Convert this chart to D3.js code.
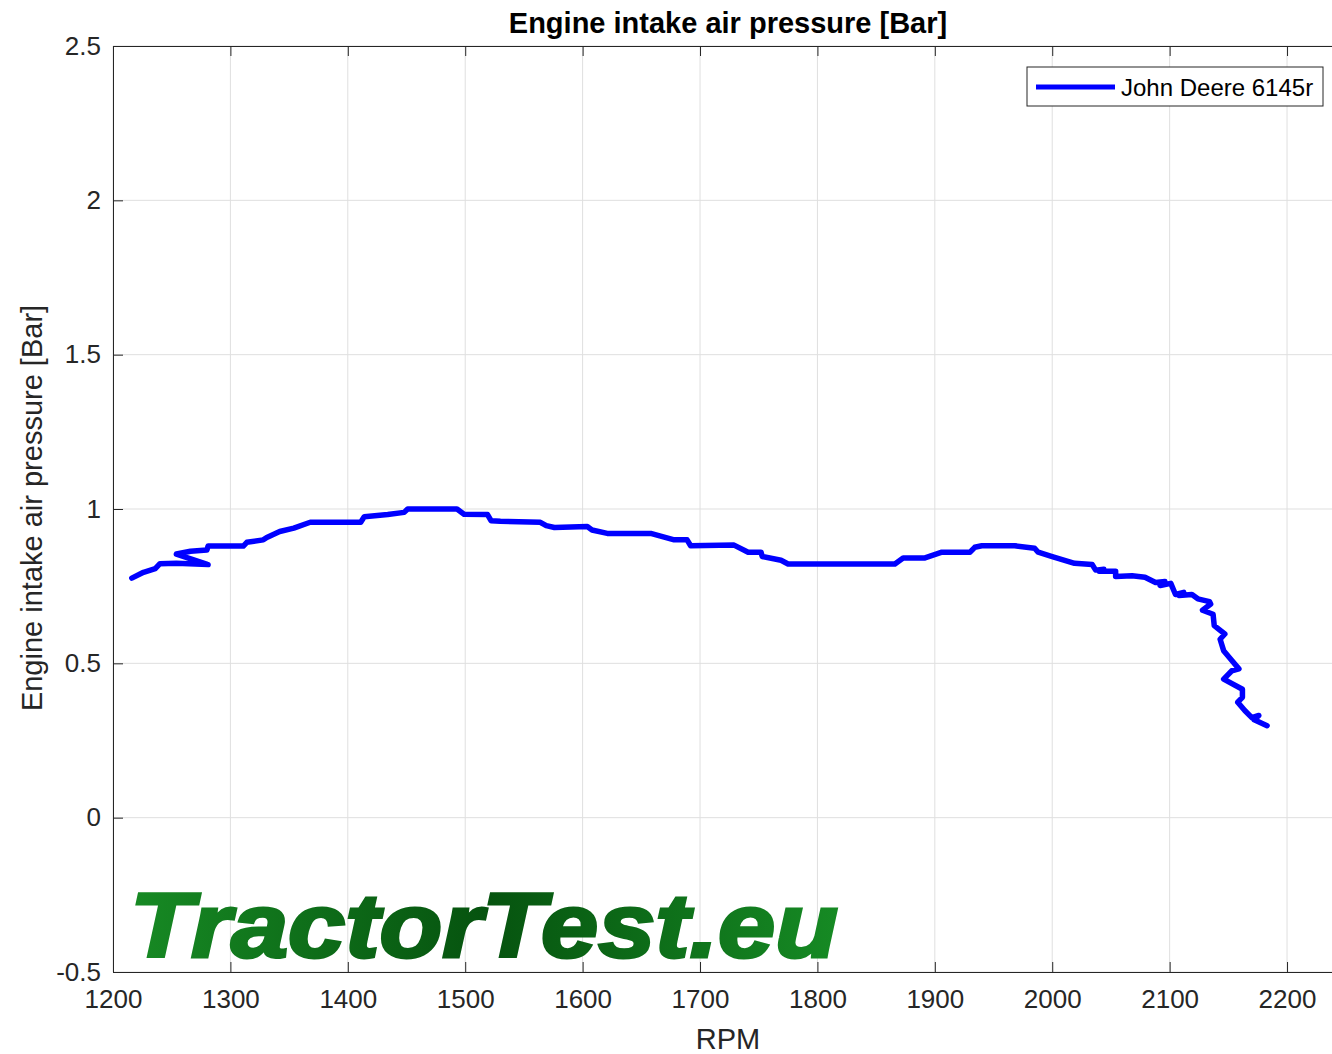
<!DOCTYPE html>
<html>
<head>
<meta charset="utf-8">
<script src="https://cdn.jsdelivr.net/npm/d3@7"></script>
<style>
  body { margin: 0; background: #fff; }
  svg text { font-family: "Liberation Sans", Arial, sans-serif; }
</style>
</head>
<body>
<div id="chart"></div>
<script>
// intake pressure trace
const rpm = [1216, 1226, 1236, 1240, 1254, 1281, 1254, 1266, 1280, 1281, 1311, 1314, 1328, 1331, 1342,
  1354, 1368, 1411, 1414, 1434, 1448, 1451, 1493, 1499, 1519, 1522, 1530, 1564, 1569, 1576,
  1604, 1608, 1621, 1658, 1678, 1689, 1692, 1729, 1741, 1752, 1753, 1769, 1775, 1866, 1873,
  1891, 1906, 1930, 1934, 1940, 1968, 1985, 1988, 2000, 2019, 2034, 2037, 2044, 2040, 2054,
  2054, 2068, 2079, 2088, 2096, 2092, 2101, 2105, 2112, 2108, 2119, 2124, 2134, 2135, 2128,
  2137, 2138, 2147, 2143, 2146, 2153, 2159, 2153, 2146, 2162, 2162, 2158, 2164, 2170, 2176,
  2172, 2183];
const pressure = [0.776, 0.795, 0.807, 0.823, 0.824, 0.82, 0.854, 0.863, 0.867, 0.88, 0.88, 0.892, 0.9, 0.908, 0.927,
  0.938, 0.957, 0.957, 0.975, 0.982, 0.989, 1.0, 1.0, 0.983, 0.982, 0.962, 0.96, 0.957, 0.946, 0.94,
  0.943, 0.932, 0.921, 0.921, 0.9, 0.9, 0.881, 0.883, 0.86, 0.86, 0.846, 0.834, 0.822, 0.822, 0.841,
  0.841, 0.86, 0.86, 0.876, 0.881, 0.881, 0.873, 0.86, 0.846, 0.824, 0.82, 0.802, 0.805, 0.798, 0.798,
  0.781, 0.784, 0.779, 0.762, 0.765, 0.752, 0.759, 0.723, 0.73, 0.72, 0.723, 0.709, 0.7, 0.692, 0.672,
  0.659, 0.622, 0.595, 0.578, 0.541, 0.509, 0.482, 0.476, 0.449, 0.416, 0.39, 0.374, 0.347, 0.324, 0.331,
  0.317, 0.298];
const xTicks = [1200, 1300, 1400, 1500, 1600, 1700, 1800, 1900, 2000, 2100, 2200];
const yTicks = [-0.5, 0, 0.5, 1, 1.5, 2, 2.5];
const seriesName = "John Deere 6145r";

const width = 1332, height = 1054;
const margin = { top: 46, left: 113, right: -2, bottom: 82 };

const svg = d3.select("#chart").append("svg")
  .attr("width", width).attr("height", height);

const x = d3.scaleLinear().domain([1200, 2240]).range([margin.left, width - margin.right]);
const y = d3.scaleLinear().domain([-0.5, 2.5]).range([height - margin.bottom, margin.top]);

const x0 = margin.left, x1 = width - margin.right;
const y0 = height - margin.bottom, y1 = margin.top;

// grid
svg.append("g").selectAll("line").data(xTicks).join("line")
  .attr("x1", d => x(d)).attr("x2", d => x(d)).attr("y1", y0).attr("y2", y1)
  .attr("stroke", "#dfdfdf").attr("stroke-width", 1);
svg.append("g").selectAll("line").data(yTicks).join("line")
  .attr("x1", x0).attr("x2", x1).attr("y1", d => y(d)).attr("y2", d => y(d))
  .attr("stroke", "#dfdfdf").attr("stroke-width", 1);

// watermark
const defs = svg.append("defs");
const grad = defs.append("linearGradient").attr("id", "logoGrad")
  .attr("x1", "0%").attr("x2", "100%").attr("y1", "0%").attr("y2", "0%");
grad.append("stop").attr("offset", "0%").attr("stop-color", "#178a24");
grad.append("stop").attr("offset", "50%").attr("stop-color", "#06530f");
grad.append("stop").attr("offset", "100%").attr("stop-color", "#168a24");
svg.append("text")
  .attr("x", 130).attr("y", 957)
  .attr("textLength", 708).attr("lengthAdjust", "spacingAndGlyphs")
  .style("font-size", "90px").style("font-weight", "bold").style("font-style", "italic")
  .attr("fill", "url(#logoGrad)").attr("stroke", "url(#logoGrad)").attr("stroke-width", 3)
  .text("TractorTest.eu");

// axes
const axisColor = "#262626";
const fmt = d3.format("d");
svg.append("g").attr("transform", `translate(0,${y0})`)
  .call(d3.axisBottom(x).tickValues(xTicks).tickSizeInner(-10).tickSizeOuter(0).tickPadding(18).tickFormat(fmt))
  .call(g => g.select(".domain").attr("stroke", axisColor))
  .call(g => g.selectAll(".tick line").attr("stroke", axisColor))
  .call(g => g.selectAll("text").attr("fill", axisColor).style("font-size", "26px").style("font-family", "Liberation Sans, Arial"));
svg.append("g").attr("transform", `translate(0,${y1})`)
  .call(d3.axisTop(x).tickValues(xTicks).tickSizeInner(-10).tickSizeOuter(0).tickFormat(""))
  .call(g => g.select(".domain").attr("stroke", axisColor))
  .call(g => g.selectAll(".tick line").attr("stroke", axisColor));
svg.append("g").attr("transform", `translate(${x0},0)`)
  .call(d3.axisLeft(y).tickValues(yTicks).tickSizeInner(-10).tickSizeOuter(0).tickPadding(12)
    .tickFormat(d => String(d)))
  .call(g => g.select(".domain").attr("stroke", axisColor))
  .call(g => g.selectAll(".tick line").attr("stroke", axisColor))
  .call(g => g.selectAll("text").attr("fill", axisColor).style("font-size", "26px").style("font-family", "Liberation Sans, Arial"));

// series
const pts = rpm.map((r, i) => [r, pressure[i]]);
svg.append("path").datum(pts)
  .attr("fill", "none").attr("stroke", "#0000ff").attr("stroke-width", 5.5)
  .attr("stroke-linejoin", "round").attr("stroke-linecap", "round")
  .attr("d", d3.line().x(d => x(d[0])).y(d => y(d[1])));

// titles
svg.append("text").attr("x", 728).attr("y", 33).attr("text-anchor", "middle")
  .style("font-size", "29px").style("font-weight", "bold").attr("fill", "#000")
  .text("Engine intake air pressure [Bar]");
svg.append("text").attr("x", 728).attr("y", 1049).attr("text-anchor", "middle")
  .style("font-size", "29px").attr("fill", axisColor).text("RPM");
svg.append("text").attr("transform", "translate(42,508) rotate(-90)").attr("text-anchor", "middle")
  .style("font-size", "29px").attr("fill", axisColor).text("Engine intake air pressure [Bar]");

// legend
const lg = svg.append("g").attr("transform", "translate(1027,67)");
lg.append("rect").attr("width", 296).attr("height", 39)
  .attr("fill", "#fff").attr("stroke", axisColor).attr("stroke-width", 1);
lg.append("line").attr("x1", 9).attr("x2", 88).attr("y1", 20).attr("y2", 20)
  .attr("stroke", "#0000ff").attr("stroke-width", 5);
lg.append("text").attr("x", 94).attr("y", 29).style("font-size", "24px").attr("fill", "#000")
  .text(seriesName);
</script>
</body>
</html>
